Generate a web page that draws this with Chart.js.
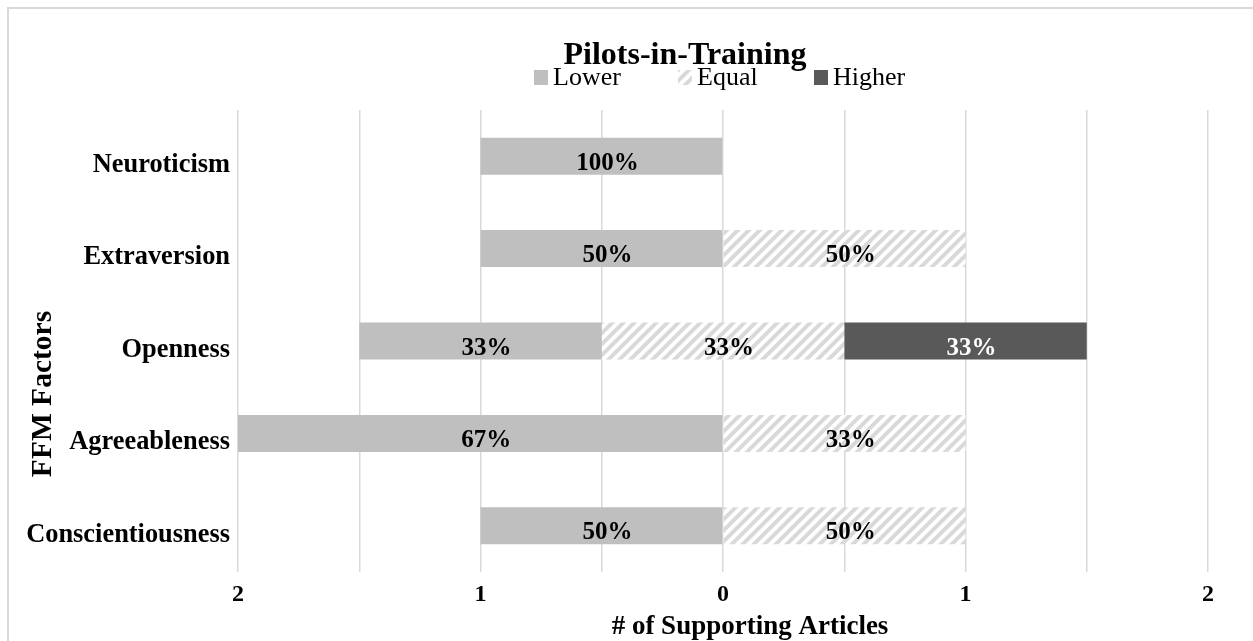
<!DOCTYPE html>
<html>
<head>
<meta charset="utf-8">
<script src="https://cdn.jsdelivr.net/npm/chart.js@4"></script>
<style>
  html, body { margin: 0; padding: 0; background: #fff; overflow: hidden; }
  #wrap { position: relative; width: 1253px; height: 641px; }
</style>
</head>
<body>
<div id="wrap"><canvas id="chart" width="1253" height="641"></canvas></div>
<script>
// data
const factors = ['Neuroticism', 'Extraversion', 'Openness', 'Agreeableness', 'Conscientiousness'];
const lowerCounts = [1, 1, 1, 2, 1];
const equalCounts = [0, 1, 1, 1, 1];
const higherCounts = [0, 0, 1, 0, 0];
// where the Lower / Equal boundary sits on the axis (Openness is centred)
const splitAt = [0, 0, -0.5, 0, 0];
const seriesNames = ['Lower', 'Equal', 'Higher'];
const chartTitle = 'Pilots-in-Training';
const xTitle = '# of Supporting Articles';
const yTitle = 'FFM Factors';

const SERIF = '"Liberation Serif", "Times New Roman", serif';

// diagonal hatch used for the "Equal" series
function makeHatch() {
    const s = 11;
    const c = document.createElement('canvas');
    c.width = s; c.height = s;
    const g = c.getContext('2d');
    g.fillStyle = '#fff';
    g.fillRect(0, 0, s, s);
    g.strokeStyle = '#d9d9d9';
    g.lineWidth = 4;
    g.beginPath();
    g.moveTo(0, s); g.lineTo(s, 0);
    g.moveTo(-s / 2, s / 2); g.lineTo(s / 2, -s / 2);
    g.moveTo(s / 2, s + s / 2); g.lineTo(s + s / 2, s / 2);
    g.stroke();
    return g.createPattern(c, 'repeat');
}

const ctx = document.getElementById('chart').getContext('2d');
const hatch = makeHatch();
const colors = ['#bfbfbf', hatch, '#595959'];

function totals(i) {
    return lowerCounts[i] + equalCounts[i] + higherCounts[i];
}

const lowerRanges = lowerCounts.map((c, i) => c ? [splitAt[i] - c, splitAt[i]] : null);
const equalRanges = equalCounts.map((c, i) => c ? [splitAt[i], splitAt[i] + c] : null);
const higherRanges = higherCounts.map((c, i) => c ? [splitAt[i] + equalCounts[i], splitAt[i] + equalCounts[i] + c] : null);
const countsBySeries = [lowerCounts, equalCounts, higherCounts];

// frame, titles, legend and percentage labels
const decorations = {
    id: 'decorations',
    beforeDraw(chart) {
        const c = chart.ctx;
        c.save();
        c.fillStyle = '#fff';
        c.fillRect(0, 0, chart.width, chart.height);
        c.fillStyle = '#d9d9d9';
        c.fillRect(7, 7, chart.width, 2);
        c.fillRect(7, 7, 2, chart.height);
        c.restore();
    },
    afterDatasetsDraw(chart) {
        const c = chart.ctx;
        c.save();
        // percentage labels
        c.font = 'bold 25px ' + SERIF;
        c.textAlign = 'center';
        c.textBaseline = 'alphabetic';
        chart.data.datasets.forEach((ds, d) => {
            const meta = chart.getDatasetMeta(d);
            meta.data.forEach((bar, i) => {
                const n = countsBySeries[d][i];
                if (!n) return;
                const pct = Math.round(n / totals(i) * 100) + '%';
                const p = bar.getProps(['x', 'y', 'base'], true);
                c.fillStyle = d === 2 ? '#fff' : '#000';
                c.fillText(pct, (p.x + p.base) / 2 + 6, p.y + 13.5);
            });
        });

        // chart title
        c.fillStyle = '#000';
        c.font = 'bold 32px ' + SERIF;
        c.fillText(chartTitle, 685, 64);

        // legend
        const legendX = [534, 678, 814];
        c.font = '26px ' + SERIF;
        c.textAlign = 'left';
        seriesNames.forEach((name, k) => {
            c.fillStyle = colors[k];
            c.fillRect(legendX[k], 70, 14, 15);
            c.fillStyle = '#000';
            c.fillText(name, legendX[k] + 19, 85);
        });

        // x axis title
        c.textAlign = 'center';
        c.font = 'bold 27px ' + SERIF;
        c.fillText(xTitle, 750, 634);

        // y axis title, rotated
        c.translate(51, 394);
        c.rotate(-Math.PI / 2);
        c.font = 'bold 29.5px ' + SERIF;
        c.fillText(yTitle, 0, 0);
        c.restore();
    }
};

new Chart(ctx, {
    type: 'bar',
    data: {
        labels: factors,
        datasets: [
            { label: seriesNames[0], data: lowerRanges, backgroundColor: colors[0] },
            { label: seriesNames[1], data: equalRanges, backgroundColor: colors[1] },
            { label: seriesNames[2], data: higherRanges, backgroundColor: colors[2] }
        ]
    },
    options: {
        indexAxis: 'y',
        responsive: false,
        animation: false,
        devicePixelRatio: 1,
        layout: { padding: { top: 110, right: 45, left: 0, bottom: 0 } },
        datasets: {
            bar: { grouped: false, borderWidth: 0, barPercentage: 0.4, categoryPercentage: 1 }
        },
        plugins: {
            legend: { display: false },
            title: { display: false },
            tooltip: { enabled: false }
        },
        scales: {
            x: {
                type: 'linear',
                min: -2,
                max: 2,
                afterFit(scale) { scale.height = 69; },
                border: { display: false },
                grid: { color: '#d9d9d9', lineWidth: 1.5, drawTicks: false },
                ticks: {
                    stepSize: 0.5,
                    padding: 8,
                    color: '#000',
                    font: { family: SERIF, size: 24, weight: 'bold' },
                    callback: v => Number.isInteger(v) ? String(Math.abs(v)) : ''
                }
            },
            y: {
                afterFit(scale) { scale.width = 238; },
                border: { display: false },
                grid: { display: false, drawTicks: false },
                ticks: {
                    padding: 8,
                    labelOffset: 9,
                    color: '#000',
                    font: { family: SERIF, size: 26.4, weight: 'bold' }
                }
            }
        }
    },
    plugins: [decorations]
});
</script>
</body>
</html>
